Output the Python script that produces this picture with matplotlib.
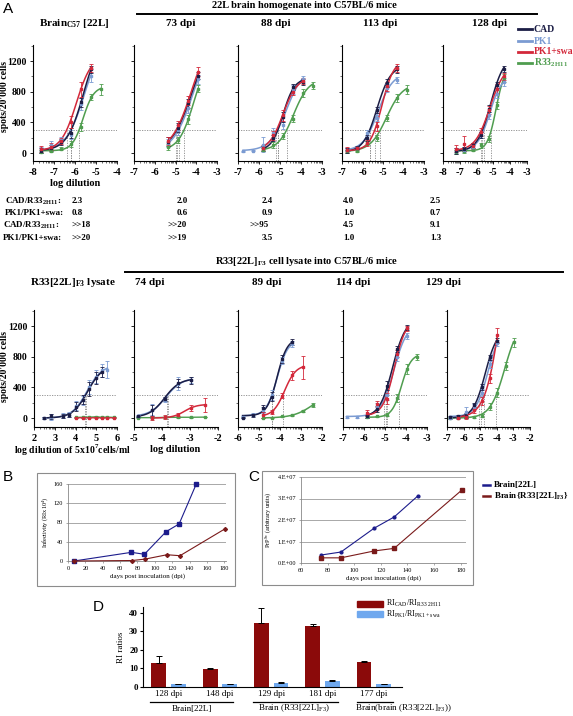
import numpy as np
import matplotlib
matplotlib.use('Agg')
import matplotlib.pyplot as plt
from matplotlib.patches import Rectangle
from matplotlib.lines import Line2D
import matplotlib.transforms as mtrans

W, H = 573, 716
plt.rcParams['font.family'] = ['Liberation Serif', 'DejaVu Serif']
plt.rcParams['axes.unicode_minus'] = False

# ---------------- data: panel A top row (22L brain homogenate) ----------------
SERIES = ['CAD', 'PK1', 'PK1+swa', 'R33']
T1_x = [-7.63, -7.16, -6.68, -6.20, -5.73, -5.25, -4.78]
T1_y = [[30, 60, 140, 260, 660, 1090, None],
        [40, 110, 170, 240, 640, 1010, None],
        [55, 85, 160, 400, 830, 1110, None],
        [15, 30, 55, 120, 340, 730, 830]]
T1_e = [[30, 40, 40, 60, 60, 40, 0],
        [40, 50, 40, 60, 80, 80, 0],
        [40, 40, 40, 80, 100, 50, 0],
        [20, 20, 20, 40, 50, 40, 70]]

T2_x = [-5.35, -4.87, -4.39, -3.91]
T2_y = [[150, 330, 650, 1010],
        [130, 300, 590, 960],
        [160, 360, 680, 1060],
        [80, 170, 440, 840]]
T2_e = [[60, 60, 60, 50],
        [50, 60, 70, 60],
        [50, 60, 60, 60],
        [40, 40, 60, 50]]

T3_x = [-6.76, -6.29, -5.81, -5.33, -4.86, -4.38, -3.90, -3.43]
T3_y = [[None, None, 60, 200, 470, 860, 930, None],
        [20, 30, 110, 260, 360, 830, 960, None],
        [None, None, 70, 230, 490, 800, 940, None],
        [None, None, 40, 110, 220, 450, 780, 880]]
T3_e = [[0, 0, 30, 40, 60, 40, 40, 0],
        [10, 10, 100, 60, 50, 60, 50, 0],
        [0, 0, 30, 60, 70, 40, 40, 0],
        [0, 0, 20, 40, 40, 40, 50, 50]]

T4_x = [-6.77, -6.28, -5.79, -5.31, -4.82, -4.33, -3.84]
T4_y = [[35, 70, 200, 565, 910, 1090, None],
        [40, 60, 260, 456, 850, 950, None],
        [45, 65, 130, 350, 870, 1110, None],
        [22, 22, 130, 196, 456, 717, 826]]
T4_e = [[30, 20, 40, 40, 50, 40, 0],
        [20, 20, 40, 40, 50, 40, 0],
        [30, 20, 40, 60, 60, 50, 0],
        [20, 10, 30, 40, 40, 50, 60]]

T5_x = [-7.24, -6.73, -6.23, -5.74, -5.26, -4.80, -4.37]
T5_y = [[26, 50, 100, 240, 580, 890, 1100],
        [30, 45, 80, 230, 490, 770, 925],
        [57, 120, 90, 270, 565, 840, 1000],
        [13, 26, 43, 100, 180, 620, 980]]
T5_e = [[40, 30, 30, 40, 40, 40, 40],
        [30, 30, 30, 40, 50, 50, 50],
        [50, 100, 40, 50, 50, 60, 50],
        [20, 20, 20, 30, 40, 50, 50]]

# ---------------- data: panel A middle row (R33[22L]F3 cell lysate) ----------------
M1_x = [2.50, 2.80, 3.38, 3.70, 4.03, 4.35, 4.66, 4.98, 5.27, 5.54, 5.86]
M1_y = [[0, 20, 25, 40, 150, 240, 380, 520, 600, None, None],
        [5, 15, 30, 45, 160, 230, 400, 540, 620, 630, None],
        [None, None, None, None, 5, 3, 5, 2, 5, 4, 3],
        [None, None, None, None, 8, 10, 12, 15, 10, 12, 8]]
M1_e = [[10, 30, 30, 30, 60, 60, 90, 80, 70, 0, 0],
        [10, 40, 30, 30, 60, 60, 90, 80, 80, 110, 0],
        [0, 0, 0, 0, 5, 5, 5, 5, 5, 5, 5],
        [0, 0, 0, 0, 5, 5, 5, 5, 5, 5, 5]]

M2_x = [-4.85, -4.37, -3.89, -3.42, -2.97, -2.46]
M2_y = [[20, 100, 250, 460, 490, None],
        [25, 110, 240, 450, 500, None],
        [None, 0, 15, 40, 130, 170],
        [5, 5, 8, 10, 10, 12]]
M2_e = [[10, 70, 30, 50, 40, 0],
        [10, 70, 30, 80, 40, 0],
        [0, 30, 30, 20, 40, 90],
        [5, 5, 5, 5, 5, 5]]

M3_x = [-5.78, -5.30, -4.82, -4.37, -3.89, -3.41, -2.92, -2.44]
M3_y = [[5, 35, 125, 280, 770, 990, None, None],
        [10, 40, 110, 300, 750, 970, None, None],
        [None, None, 35, 80, 290, 555, 660, None],
        [None, None, 0, 5, 20, 35, 90, 170]]
M3_e = [[10, 20, 40, 60, 50, 40, 0, 0],
        [10, 20, 40, 60, 50, 40, 0, 0],
        [0, 0, 40, 30, 30, 60, 150, 0],
        [0, 0, 5, 5, 10, 10, 10, 20]]

M4_x = [-6.82, -6.35, -5.87, -5.37, -4.89, -4.41, -3.94, -3.46]
M4_y = [[None, None, 20, 115, 420, 900, 1180, None],
        [15, 15, 20, 160, 300, 800, 1070, None],
        [None, None, 70, 180, 250, 840, 1170, None],
        [None, None, 10, 20, 40, 260, 640, 800]]
M4_e = [[0, 0, 20, 40, 60, 40, 30, 0],
        [10, 10, 20, 40, 60, 50, 40, 0],
        [0, 0, 40, 40, 70, 50, 30, 0],
        [0, 0, 10, 10, 20, 50, 60, 40]]

M5_x = [-6.82, -6.32, -5.86, -5.37, -4.89, -4.43, -3.97, -3.47, -2.99]
M5_y = [[10, 20, 30, 170, 410, 790, 1010, None, None],
        [5, 15, 80, 140, 330, 700, 980, None, None],
        [None, 5, 10, 100, 220, 520, 1080, None, None],
        [5, 5, 8, 15, 30, 150, 330, 680, 990]]
M5_e = [[20, 20, 30, 30, 40, 30, 30, 0, 0],
        [10, 10, 60, 40, 50, 50, 40, 0, 0],
        [0, 20, 20, 40, 50, 60, 90, 0, 0],
        [5, 5, 10, 10, 20, 40, 60, 50, 60]]

# ratios printed under top row
RATIO_CAD_R33_1 = ['2.3', '2.0', '2.4', '4.0', '2.5']
RATIO_PK1_SWA_1 = ['0.8', '0.6', '0.9', '1.0', '0.7']
RATIO_CAD_R33_2 = ['>>18', '>>20', '>>95', '4.5', '9.1']
RATIO_PK1_SWA_2 = ['>>20', '>>19', '3.5', '1.0', '1.3']

TOP_TITLES = ['Brain$_{\\mathregular{C57}}$ [22L]', '73 dpi', '88 dpi', '113 dpi', '128 dpi']
MID_TITLES = ['R33[22L]$_{\\mathregular{F3}}$ lysate', '74 dpi', '89 dpi', '114 dpi', '129 dpi']

# ---------------- data: panel B ----------------
B_days_22L = [7, 73, 88, 113, 128, 148]
B_inf_22L = [0, 18, 14, 61, 77, 161]
B_days_R33 = [7, 74, 89, 114, 129, 181]
B_inf_R33 = [0, 1, 4, 13, 11, 67]

# ---------------- data: panel C ----------------
C_days_22L = [75, 90, 115, 130, 148]
C_prp_22L = [0.37e7, 0.51e7, 1.62e7, 2.14e7, 3.13e7]
C_days_R33 = [75, 90, 115, 130, 181]
C_prp_R33 = [0.24e7, 0.24e7, 0.56e7, 0.68e7, 3.4e7]

# ---------------- data: panel D ----------------
D_groups = ['128 dpi', '148 dpi', '129 dpi', '181 dpi', '177 dpi']
D_cad_r33 = [12.8, 9.9, 34.4, 33.0, 13.3]
D_cad_r33_err = [4.1, 0.3, 8.3, 0.9, 0.5]
D_pk1_swa = [1.6, 1.5, 2.4, 3.3, 1.7]
D_pk1_swa_err = [0.1, 0.1, 0.1, 0.2, 0.1]

COLS = ['#1b1d45', '#7b9bd2', '#d3283a', '#4f9d4f']
DRAW_ORDER = [3, 1, 0, 2]

fig = plt.figure(figsize=(W / 100, H / 100), dpi=100)


def axpx(l, t, r, b):
    return fig.add_axes([l / W, 1 - b / H, (r - l) / W, (b - t) / H])


def txt(x, y, s, **kw):
    kw.setdefault('ha', 'left')
    kw.setdefault('va', 'center')
    return fig.text(x / W, 1 - y / H, s, **kw)


def fline(x0, y0, x1, y1, **kw):
    fig.add_artist(Line2D([x0 / W, x1 / W], [1 - y0 / H, 1 - y1 / H],
                          transform=fig.transFigure, **kw))


def fit4pl(x, y):
    x = np.asarray(x, float)
    y = np.asarray(y, float)
    hs = np.linspace(0.4, 3.0, 27)[:, None, None, None]
    cs = np.linspace(x.min() - 0.5, x.max() + 2.0, 101)[None, :, None, None]
    tops = np.linspace(y.max() * 0.95, y.max() * 3.0, 42)[None, None, :, None]
    best = (np.inf, None)
    for b in [0, 10, 20, 30]:
        pred = b + (tops - b) / (1 + 10 ** (hs * (cs - x)))
        sse = ((pred - y) ** 2).sum(-1)
        i = np.unravel_index(np.argmin(sse), sse.shape)
        if sse[i] < best[0]:
            best = (sse[i], (hs.ravel()[i[0]], cs.ravel()[i[1]], tops.ravel()[i[2]], b))
    return best[1]


def draw_panel(ax, x, ys, es, xlim, ylim, ylabels=False):
    ax.axhline(300, ls=(0, (1.5, 1.5)), color='#888888', lw=0.6, zorder=1)
    for k in DRAW_ORDER:
        y, e = ys[k], es[k]
        idx = [i for i, v in enumerate(y) if v is not None]
        xv = np.array([x[i] for i in idx])
        yv = np.array([y[i] for i in idx], float)
        ev = np.array([e[i] for i in idx], float)
        c = COLS[k]
        if yv.max() < 60:
            ax.plot(xv, yv, color=c, lw=1.0, zorder=2)
        else:
            h, c50, top, b = fit4pl(xv, yv)
            xx = np.linspace(xv.min(), xv.max(), 120)
            ax.plot(xx, b + (top - b) / (1 + 10 ** (h * (c50 - xx))), color=c, lw=1.1, zorder=2)
            if top > 300:
                x300 = c50 - np.log10((top - b) / (300 - b) - 1) / h
                ax.plot([x300, x300], [ylim[0], 300], ls=(0, (1.5, 1.5)), color='#888888', lw=0.6, zorder=1)
        ax.errorbar(xv, yv, yerr=ev, fmt='s', ms=1.8, color=c, ecolor=c, elinewidth=0.6,
                    capsize=1.2, capthick=0.6, zorder=3)
    ax.set_xlim(*xlim)
    ax.set_ylim(*ylim)
    for s in ['top', 'right']:
        ax.spines[s].set_visible(False)
    for s in ['left', 'bottom']:
        ax.spines[s].set_linewidth(0.8)
    ax.set_xticks(np.arange(xlim[0], xlim[1] + 1))
    minors = [n + np.log10(m) for n in range(int(xlim[0]), int(xlim[1])) for m in range(2, 10)]
    ax.set_xticks(minors, minor=True)
    ax.set_yticks([0, 400, 800, 1200])
    ax.set_yticks([200, 600, 1000, 1400], minor=True)
    ax.tick_params(axis='both', which='major', length=2.5, width=0.6, labelsize=7.5, pad=2.5)
    ax.tick_params(axis='both', which='minor', length=1.3, width=0.4)
    ax.tick_params(axis='y', pad=2, labelsize=7)
    for lb in ax.get_xticklabels() + ax.get_yticklabels():
        lb.set_fontweight('bold')
    if not ylabels:
        ax.set_yticklabels([])


# ---------------- Panel A top row ----------------
top_px = [(33, 117, (-8, -4)), (134, 217, (-7, -3)), (238, 322, (-7, -3)),
          (342, 424, (-7, -3)), (443, 527, (-8, -3))]
top_data = [(T1_x, T1_y, T1_e), (T2_x, T2_y, T2_e), (T3_x, T3_y, T3_e),
            (T4_x, T4_y, T4_e), (T5_x, T5_y, T5_e)]
for i, ((l, r, xl), (x, y, e)) in enumerate(zip(top_px, top_data)):
    ax = axpx(l, 45, r, 161)
    draw_panel(ax, x, y, e, xl, (-104, 1409), ylabels=(i == 0))

mid_px = [(34, 117, (2, 6)), (134, 218, (-5, -2)), (238, 322, (-6, -2)),
          (343, 427, (-7, -3)), (447, 530, (-7, -2))]
mid_data = [(M1_x, M1_y, M1_e), (M2_x, M2_y, M2_e), (M3_x, M3_y, M3_e),
            (M4_x, M4_y, M4_e), (M5_x, M5_y, M5_e)]
for i, ((l, r, xl), (x, y, e)) in enumerate(zip(mid_px, mid_data)):
    ax = axpx(l, 310, r, 427)
    draw_panel(ax, x, y, e, xl, (-117, 1409), ylabels=(i == 0))

bold = dict(fontweight='bold')
txt(3, 9, 'A', fontsize=11, family=['Liberation Sans', 'DejaVu Sans'])
txt(304, 5, '22L brain homogenate into C57BL/6 mice', ha='center', fontsize=7.5, **bold)
fline(137, 13.5, 537, 13.5, color='black', lw=1.4)
for s, xc in zip(TOP_TITLES, [74, 181, 276, 380, 489]):
    txt(xc, 24, s, ha='center', fontsize=8, **bold)
txt(4.5, 96, "spots/20'000 cells", rotation=90, ha='center', fontsize=7, **bold)
txt(75, 183, 'log dilution', ha='center', fontsize=7.5, **bold)

# legend
for j, (name, c) in enumerate(zip(['CAD', 'PK1', 'PK1+swa', 'R33$_{\\mathregular{2H11}}$'], COLS)):
    yy = [29, 41, 52, 63][j]
    fline(518, yy, 532, yy, color=c, lw=2)
    txt(534, yy, name, color=c, fontsize=7, **bold)

# ratio rows
txt(5, 201, 'CAD/R33$_{\\mathregular{2H11}}$:', fontsize=6.5, **bold)
txt(5, 213, 'PK1/PK1+swa:', fontsize=6.5, **bold)
txt(3, 225, 'CAD/R33$_{\\mathregular{2H11}}$:', fontsize=6.5, **bold)
txt(3, 238, 'PK1/PK1+swa:', fontsize=6.5, **bold)
for s, xx in zip(RATIO_CAD_R33_1, [72, 177, 262, 343, 430]):
    txt(xx, 201, s, fontsize=6.5, **bold)
for s, xx in zip(RATIO_PK1_SWA_1, [72, 177, 262, 343, 430]):
    txt(xx, 213, s, fontsize=6.5, **bold)
for s, xx in zip(RATIO_CAD_R33_2, [72, 167, 250, 343, 430]):
    txt(xx, 225, s, fontsize=6.5, **bold)
for s, xx in zip(RATIO_PK1_SWA_2, [72, 167, 262, 343, 430]):
    txt(xx, 238, s, fontsize=6.5, **bold)

txt(307, 262, 'R33[22L]$_{\\mathregular{F3}}$ cell lysate into C57BL/6 mice', ha='center', fontsize=7.5, **bold)
fline(125, 272, 563, 272, color='black', lw=1.4)
for s, xc in zip(MID_TITLES, [73, 150, 267, 353, 443]):
    txt(xc, 283, s, ha='center', fontsize=8, **bold)
txt(4.5, 367, "spots/20'000 cells", rotation=90, ha='center', fontsize=7, **bold)
txt(72, 450, 'log dilution of 5x10$^{\\mathregular{7}}$cells/ml', ha='center', fontsize=7, **bold)
txt(175, 450, 'log dilution', ha='center', fontsize=7.5, **bold)

# ---------------- Panel B ----------------
txt(3, 477, 'B', fontsize=11, family=['Liberation Sans', 'DejaVu Sans'])
fig.add_artist(Rectangle((37 / W, 1 - 586 / H), (235 - 37) / W, (586 - 473) / H,
                         transform=fig.transFigure, fill=False, ec='#8c8c8c', lw=0.8))
axB = axpx(68, 484, 226, 561)
axB.plot(B_days_22L, B_inf_22L, '-s', color='#1c1c8c', ms=3, lw=0.8, clip_on=False, zorder=3)
axB.plot(B_days_R33, B_inf_R33, '-D', color='#7a1a1a', ms=2, lw=0.8, clip_on=False, zorder=3)
axB.set_xlim(0, 182)
axB.set_ylim(0, 160)
axB.set_yticks([0, 40, 80, 120, 160])
axB.set_xticks(range(0, 181, 20))
axB.grid(axis='y', color='#9a9a9a', lw=0.6)
axB.set_axisbelow(True)
for s in ['top', 'right']:
    axB.spines[s].set_visible(False)
for s in ['left', 'bottom']:
    axB.spines[s].set_color('#888888')
    axB.spines[s].set_linewidth(0.6)
axB.tick_params(labelsize=4.5, length=1.5, width=0.5, color='#888888', pad=2)
axB.set_ylabel('Infectivity (RIx10$^{\\mathregular{4}}$)', fontsize=4.5, labelpad=3)
axB.set_xlabel('days post inoculation (dpi)', fontsize=5, labelpad=1.5)

# ---------------- Panel C ----------------
txt(248, 477, 'C', fontsize=11, family=['Liberation Sans', 'DejaVu Sans'])
fig.add_artist(Rectangle((262 / W, 1 - 585 / H), (473 - 262) / W, (585 - 471) / H,
                         transform=fig.transFigure, fill=False, ec='#8c8c8c', lw=0.8))
axC = axpx(301, 477, 466, 563)
axC.plot(C_days_22L, C_prp_22L, '-o', color='#1c1c8c', ms=2, lw=0.8, zorder=3)
axC.plot(C_days_R33, C_prp_R33, '-s', color='#7a1a1a', ms=2.8, lw=0.8, zorder=3)
axC.set_xlim(60, 184)
axC.set_ylim(0, 4e7)
axC.set_yticks([0, 1e7, 2e7, 3e7, 4e7])
axC.set_yticklabels(['0.E+00', '1.E+07', '2.E+07', '3.E+07', '4.E+07'])
axC.set_xticks(range(60, 181, 20))
axC.grid(axis='y', color='#9a9a9a', lw=0.6)
axC.set_axisbelow(True)
for s in ['top', 'right']:
    axC.spines[s].set_visible(False)
for s in ['left', 'bottom']:
    axC.spines[s].set_color('#888888')
    axC.spines[s].set_linewidth(0.6)
axC.tick_params(labelsize=4.5, length=1.5, width=0.5, color='#888888', pad=2)
axC.set_ylabel('PrP$^{\\mathregular{Sc}}$ (arbitrary units)', fontsize=4.5, labelpad=3)
axC.set_xlabel('days post inoculation (dpi)', fontsize=5, labelpad=1.5)
fline(483, 485, 490, 485, color='#1c1c8c', lw=1.8)
txt(494, 485, 'Brain[22L]', fontsize=6.5, **bold)
fline(483, 496, 490, 496, color='#7a1a1a', lw=1.8)
txt(494, 496, 'Brain{R33[22L]$_{\\mathregular{F3}}$}', fontsize=6.5, **bold)

# ---------------- Panel D ----------------
txt(93, 607, 'D', fontsize=11, family=['Liberation Sans', 'DejaVu Sans'])
axD = axpx(143, 607, 402, 687)
gx = np.arange(len(D_groups))
off, bw = 0.19, 0.29
axD.bar(gx - off, D_cad_r33, width=bw, color='#8b0a0a', zorder=2)
axD.bar(gx + off, D_pk1_swa, width=bw, color='#6fa8ee', zorder=2)
axD.errorbar(gx - off, D_cad_r33, yerr=[np.zeros(len(gx)), D_cad_r33_err], fmt='none',
             ecolor='black', elinewidth=0.7, capsize=2.5, capthick=0.7, zorder=3)
axD.errorbar(gx + off, D_pk1_swa, yerr=[np.zeros(len(gx)), D_pk1_swa_err], fmt='none',
             ecolor='black', elinewidth=0.7, capsize=2.5, capthick=0.7, zorder=3)
axD.set_xlim(-0.5, 4.55)
axD.set_ylim(0, 43)
axD.set_yticks([0, 10, 20, 30, 40])
axD.set_xticks(gx)
axD.set_xticklabels(D_groups)
for s in ['top', 'right']:
    axD.spines[s].set_visible(False)
axD.tick_params(axis='x', length=0, labelsize=6.5, pad=2)
axD.tick_params(axis='y', length=2, labelsize=6.5, pad=1.5)
for lb in axD.get_yticklabels():
    lb.set_fontweight('bold')
axD.set_ylabel('RI ratios', fontsize=6.5, labelpad=3)
trD = mtrans.blended_transform_factory(axD.transData, axD.transAxes)
for (a, b_, lab, cx) in [(-0.36, 1.26, 'Brain[22L]', 0.45),
                         (1.65, 3.30, 'Brain (R33[22L]$_{\\mathregular{F3}}$)', 2.45),
                         (3.67, 4.38, 'Brain(brain (R33[22L]$_{\\mathregular{F3}}$))', 4.57)]:
    axD.plot([a, b_], [-0.19, -0.19], color='black', lw=0.9, transform=trD, clip_on=False)
    axD.text(cx, -0.27, lab, transform=trD, ha='center', va='center', fontsize=6.5)
fig.add_artist(Rectangle((357 / W, 1 - 607 / H), 26 / W, 6 / H, transform=fig.transFigure,
                         color='#8b0a0a'))
fig.add_artist(Rectangle((357 / W, 1 - 617 / H), 26 / W, 6 / H, transform=fig.transFigure,
                         color='#6fa8ee'))
txt(386, 603.5, 'RI$_{\\mathregular{CAD}}$/RI$_{\\mathregular{R33\\ 2H11}}$', fontsize=5.8)
txt(386, 614.5, 'RI$_{\\mathregular{PK1}}$/RI$_{\\mathregular{PK1+swa}}$', fontsize=5.8)

fig.savefig('out.png', dpi=100)
